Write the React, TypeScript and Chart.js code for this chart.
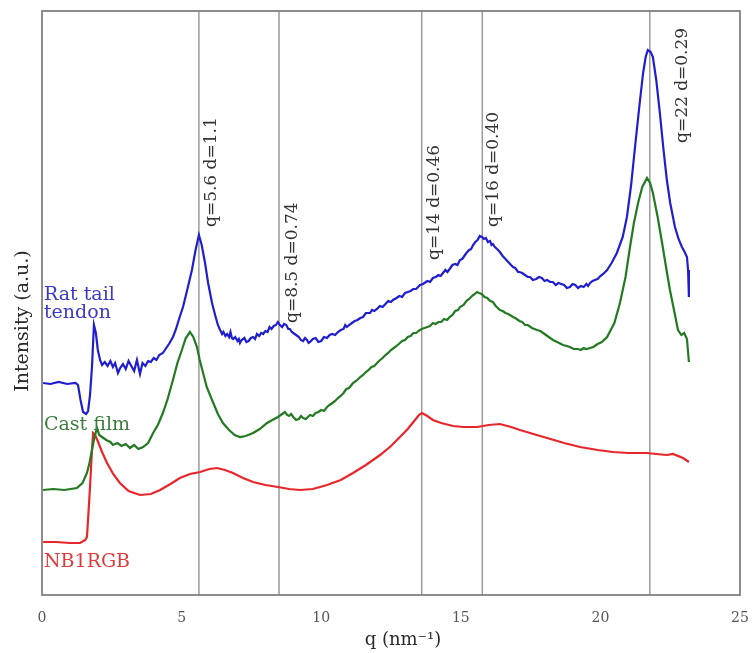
import React, { useEffect, useRef } from "react";
import { Chart, registerables } from "chart.js";

Chart.register(...registerables);

// ---- data (q in nm^-1, intensity in arbitrary units) ----
const ratTailQ = [0.04, 0.3, 0.6, 0.9, 1.2, 1.29, 1.38, 1.47, 1.58, 1.65, 1.72, 1.79, 1.86, 1.93, 2.0, 2.08, 2.15, 2.25, 2.35, 2.45, 2.54, 2.62, 2.72, 2.8, 2.9, 3.0, 3.1, 3.2, 3.3, 3.4, 3.51, 3.6, 3.7, 3.8, 3.9, 4.0, 4.1, 4.2, 4.33, 4.45, 4.57, 4.69, 4.8, 4.92, 5.05, 5.2, 5.37, 5.5, 5.62, 5.72, 5.84, 5.95, 6.09, 6.2, 6.3,
  6.38, 6.45, 6.5, 6.57, 6.63, 6.7, 6.75, 6.8, 6.85, 6.92, 7.0, 7.05, 7.09, 7.15, 7.25, 7.32, 7.4, 7.48, 7.56, 7.63, 7.7, 7.78, 7.85, 7.92, 8.0, 8.08, 8.15, 8.22, 8.3, 8.38, 8.45, 8.52, 8.6, 8.67, 8.75, 8.82, 8.88, 8.95, 9.0, 9.1, 9.2, 9.27, 9.35, 9.42, 9.49, 9.55, 9.6, 9.7, 9.8, 9.9, 10.0, 10.1, 10.21, 10.3, 10.4, 10.5, 10.6, 10.7, 10.8, 10.86, 10.92, 11.0, 11.1, 11.2, 11.3, 11.4, 11.5, 11.6, 11.75, 11.82, 11.9, 12.0, 12.1, 12.2, 12.3, 12.4, 12.5, 12.57, 12.7, 12.8, 12.9, 13.0, 13.1, 13.2, 13.3, 13.4, 13.54, 13.65, 13.8, 13.9, 14.0, 14.1, 14.2, 14.28, 14.36, 14.45, 14.52, 14.6, 14.7, 14.8, 14.88, 14.97, 15.05, 15.1, 15.2, 15.3, 15.37, 15.44, 15.52, 15.6, 15.68, 15.76, 15.83, 15.9, 15.97, 16.05, 16.1, 16.15, 16.22, 16.3, 16.4, 16.5, 16.6, 16.7, 16.8, 16.87, 16.95, 17.05, 17.1, 17.2, 17.3, 17.4, 17.48, 17.58, 17.7, 17.8, 17.9, 18.0, 18.09, 18.2, 18.3, 18.4, 18.5, 18.6, 18.7, 18.8, 18.91, 19.0, 19.1, 19.2, 19.3, 19.4, 19.5, 19.56, 19.63, 19.72, 19.8, 19.9, 20.0, 20.1, 20.24,
  20.4, 20.59, 20.8, 20.95, 21.1, 21.24, 21.4, 21.53, 21.62, 21.7, 21.8, 21.88, 22.0, 22.13, 22.25, 22.38, 22.5, 22.67, 22.8, 22.92, 23.0, 23.1, 23.14, 23.17];
const ratTailI = [212, 211, 213, 211, 212, 210, 195, 183, 181, 184, 200, 228, 270, 262, 245, 235, 230, 233, 229, 234, 228, 232, 222, 227, 231, 226, 234, 229, 224, 235, 221, 232, 229, 234, 233, 237, 235, 240, 242, 247, 252, 258, 266, 277, 288, 305, 325, 345, 360, 350, 332, 312, 292, 280, 270,
  265, 261, 263, 259, 261, 258, 263, 257, 256, 258, 254, 256, 252, 255, 257, 253, 254, 257, 258, 256, 261, 259, 262, 261, 264, 263, 268, 266, 269, 270, 273, 270, 268, 271, 270, 266, 266, 263, 262, 260, 258, 255, 254, 257, 255, 252, 253, 256, 257, 253, 254, 258, 257, 260, 261, 260, 263, 265, 266, 270, 268, 270, 272, 274, 275, 277, 278, 282, 282, 285, 284, 286, 289, 288, 291, 294, 293, 295, 297, 299, 298, 302, 303, 304, 306, 306, 310, 311, 314, 313, 317, 318, 320, 319, 322, 325, 323, 326, 330, 331, 330, 335, 336, 338, 342, 345, 346, 350, 353, 355, 359, 358, 356, 357, 353, 354, 350, 351, 348, 346, 343, 339, 336, 333, 330, 328, 327, 323, 323, 322, 320, 318, 318, 315, 316, 318, 317, 314, 315, 313, 313, 310, 312, 311, 310, 307, 308, 311, 310, 307, 309, 308, 311, 309, 312, 314, 315, 316, 319, 321, 325,
  332, 342, 358, 378, 410, 448, 490, 522, 538, 545, 543, 538, 515, 482, 448, 415, 392, 368, 356, 348, 344, 338, 325, 298];

const castFilmQ = [0.04, 0.4, 0.8, 1.25, 1.45, 1.61, 1.7, 1.79, 1.88, 1.97, 2.05, 2.15, 2.3, 2.45, 2.54, 2.7, 2.85, 3.0, 3.15, 3.3, 3.45, 3.62, 3.8, 3.98, 4.15, 4.33, 4.5, 4.69, 4.85, 5.01, 5.15, 5.3, 5.42, 5.55, 5.65, 5.77, 5.9, 6.09, 6.3, 6.48, 6.7, 6.9, 7.09, 7.3, 7.56, 7.8, 8.06, 8.25, 8.45, 8.6,
  8.7, 8.78, 8.85, 8.92, 9.0, 9.1, 9.2, 9.28, 9.35, 9.45, 9.6, 9.7, 9.8, 9.9, 10.0, 10.1, 10.21, 10.3, 10.4, 10.5, 10.6, 10.7, 10.8, 10.9, 11.0, 11.14, 11.25, 11.4, 11.5, 11.6, 11.7, 11.8, 11.9, 12.0, 12.11, 12.2, 12.3, 12.4, 12.5, 12.6, 12.7, 12.82, 12.9, 13.0, 13.1, 13.2, 13.3, 13.4, 13.54, 13.6, 13.7, 13.8, 13.9, 14.0, 14.1, 14.2, 14.3, 14.4, 14.51, 14.6, 14.7, 14.8, 14.9, 14.97, 15.1, 15.2, 15.3, 15.4, 15.5, 15.58, 15.65, 15.75, 15.85, 15.95, 16.05, 16.15, 16.25, 16.4, 16.5, 16.6, 16.7, 16.87, 16.95, 17.1, 17.2, 17.3, 17.4, 17.55, 17.73, 17.85, 18.0, 18.15, 18.3, 18.45, 18.66, 18.8, 18.9, 19.05, 19.2, 19.3, 19.4, 19.5, 19.63, 19.75, 19.9, 20.05, 20.24,
  20.5, 20.7, 20.9, 21.06, 21.2, 21.35, 21.5, 21.67, 21.78, 21.88, 22.05, 22.21, 22.35, 22.49, 22.65, 22.78, 22.9, 23.0, 23.1, 23.17];
const castFilmI = [105, 106, 105, 107, 112, 122, 132, 145, 158, 167, 160, 158, 155, 153, 150, 152, 149, 151, 147, 150, 146, 148, 152, 162, 170, 182, 196, 215, 232, 245, 257, 263, 258, 248, 235, 222, 208, 195, 181, 172, 165, 160, 158, 159, 162, 166, 172, 175, 178, 181,
  183, 180, 179, 181, 178, 175, 176, 179, 177, 176, 180, 179, 182, 183, 185, 184, 188, 190, 192, 194, 197, 199, 202, 206, 207, 212, 214, 218, 220, 223, 225, 228, 229, 232, 235, 237, 240, 242, 245, 247, 249, 252, 254, 255, 258, 259, 262, 262, 265, 266, 267, 268, 269, 272, 271, 273, 273, 276, 275, 278, 280, 284, 285, 288, 290, 294, 296, 299, 301, 303, 302, 301, 298, 297, 294, 293, 289, 285, 284, 282, 281, 278, 277, 274, 273, 270, 270, 267, 265, 264, 261, 258, 255, 253, 250, 249, 248, 246, 246, 245, 247, 246, 247, 248, 251, 253, 258,
  272, 292, 318, 348, 372, 392, 408, 417, 412, 402, 378, 352, 328, 305, 283, 265, 260, 262, 256, 233];

const nb1rgbQ = [0.04, 0.5, 1.0, 1.36, 1.55, 1.61, 1.66, 1.72, 1.78, 1.83, 1.9, 2.01, 2.15, 2.33, 2.55, 2.79, 3.1, 3.51, 3.9, 4.23, 4.6, 4.94, 5.3, 5.66, 6.0, 6.27, 6.55, 6.84, 7.2, 7.56, 8.0, 8.45, 8.85, 9.24, 9.7, 10.21, 10.7, 11.14, 11.6, 12.11, 12.5, 12.82, 13.1, 13.36, 13.5, 13.61, 13.8, 14.0, 14.3, 14.72, 15.1, 15.58, 16.0, 16.4, 16.8, 17.12, 17.6, 18.09, 18.7, 19.27, 19.9, 20.45, 21.0, 21.67, 22.0, 22.38, 22.6, 22.96, 23.17];
const nb1rgbI = [53, 53, 52, 52, 55, 58, 80, 108, 140, 162, 160, 153, 143, 132, 121, 112, 104, 100, 101, 105, 111, 117, 121, 123, 126, 127, 125, 122, 117, 113, 110, 108, 106, 105, 106, 110, 115, 122, 130, 140, 149, 158, 166, 175, 180, 182, 179, 175, 172, 169, 168, 168, 170, 171, 168, 165, 161, 157, 152, 148, 145, 143, 142, 142, 141, 140, 141, 137, 133];

const seriesNames = ["Rat tail tendon", "Cast film", "NB1RGB"];
const seriesLabelLines = [["Rat tail", "tendon"], ["Cast film"], ["NB1RGB"]];
const seriesLabelQ = [0.07, 0.07, 0.07];
const seriesLabelI = [295, 165, 28];

const xTicks = [0, 5, 10, 15, 20, 25];
const xTitle = "q (nm\u207B\u00B9)";
const yTitle = "Intensity (a.u.)";

const refQ = [5.62, 8.49, 13.6, 15.77, 21.77];
const refText = ["q=5.6 d=1.1", "q=8.5 d=0.74", "q=14 d=0.46", "q=16 d=0.40", "q=22 d=0.29"];
const refTextQ = [6.07, 8.96, 14.07, 16.17, 22.93];
const refTextI = [368, 272, 335, 368, 452];

const Y_MAX = 584;

const COLORS = ["#1f1fd0", "#237a23", "#e8262a"];
const LABEL_COLORS = ["#3a3ac8", "#3d7d3d", "#e23a3a"];
const FONT = "'DejaVu Serif', serif";

function pairs(qs: number[], is: number[]) {
  return qs.map((q, i) => ({ x: q, y: is[i] }));
}

const overlayPlugin = {
  id: "overlay",
  afterDatasetsDraw(chart: any) {
    const { ctx, chartArea, scales } = chart;
    const xs = scales.x;
    const ys = scales.y;
    ctx.save();
    // frame
    ctx.strokeStyle = "#808080";
    ctx.lineWidth = 1.8;
    ctx.strokeRect(chartArea.left, chartArea.top, chartArea.right - chartArea.left, chartArea.bottom - chartArea.top);

    // reference labels (rotated)
    ctx.fillStyle = "#333333";
    ctx.font = `17px ${FONT}`;
    ctx.textAlign = "left";
    ctx.textBaseline = "middle";
    refText.forEach((t, i) => {
      const px = xs.getPixelForValue(refTextQ[i]);
      const py = ys.getPixelForValue(refTextI[i]);
      ctx.save();
      ctx.translate(px, py);
      ctx.rotate(-Math.PI / 2);
      ctx.fillText(t, 0, 0);
      ctx.restore();
    });

    // series labels
    ctx.font = `19px ${FONT}`;
    ctx.textBaseline = "alphabetic";
    seriesLabelLines.forEach((lines, i) => {
      ctx.fillStyle = LABEL_COLORS[i];
      const px = xs.getPixelForValue(seriesLabelQ[i]);
      const py = ys.getPixelForValue(seriesLabelI[i]);
      lines.forEach((ln, j) => {
        ctx.fillText(ln, px, py + j * 18);
      });
    });

    // axis titles
    ctx.fillStyle = "#2a2a2a";
    ctx.textAlign = "center";
    ctx.textBaseline = "middle";
    ctx.font = `18px ${FONT}`;
    ctx.fillText(xTitle, chartArea.left + 361, chartArea.bottom + 45);
    ctx.save();
    ctx.font = `19px ${FONT}`;
    ctx.translate(chartArea.left - 19, chartArea.top + 310);
    ctx.rotate(-Math.PI / 2);
    ctx.fillText(yTitle, 0, 0);
    ctx.restore();

    ctx.restore();
  },
};

export default function App() {
  const ref = useRef<HTMLCanvasElement | null>(null);

  useEffect(() => {
    if (!ref.current) return;
    const seriesData = [
      pairs(ratTailQ, ratTailI),
      pairs(castFilmQ, castFilmI),
      pairs(nb1rgbQ, nb1rgbI),
    ];
    const datasets: any[] = seriesData.map((d, i) => ({
      label: seriesNames[i],
      data: d,
      borderColor: COLORS[i],
      borderWidth: 2.2,
      pointRadius: 0,
      tension: 0,
      fill: false,
    }));
    refQ.forEach((q, i) => {
      datasets.push({
        label: refText[i],
        data: [
          { x: q, y: 0 },
          { x: q, y: Y_MAX },
        ],
        borderColor: "#9a9a9a",
        borderWidth: 1.5,
        pointRadius: 0,
        fill: false,
      });
    });

    const chart = new Chart(ref.current, {
      type: "line",
      data: { datasets },
      options: {
        animation: false,
        responsive: false,
        maintainAspectRatio: false,
        layout: { padding: { left: 0, top: 11, right: 13, bottom: 0 } },
        plugins: {
          legend: { display: false },
          tooltip: { enabled: false },
        },
        scales: {
          x: {
            type: "linear",
            min: 0,
            max: 25,
            afterBuildTicks: (scale: any) => {
              scale.ticks = xTicks.map((v) => ({ value: v }));
            },
            afterFit: (scale: any) => {
              scale.height = 58;
              scale.paddingLeft = 0;
              scale.paddingRight = 0;
            },
            ticks: {
              color: "#555555",
              font: { family: FONT, size: 14 },
              padding: 7,
              maxRotation: 0,
            },
            grid: { display: false },
            border: { display: false },
            title: { display: false },
          },
          y: {
            type: "linear",
            min: 0,
            max: Y_MAX,
            afterFit: (scale: any) => {
              scale.width = 42;
              scale.paddingTop = 0;
              scale.paddingBottom = 0;
            },
            ticks: { display: false },
            grid: { display: false },
            border: { display: false },
            title: { display: false },
          },
        },
      },
      plugins: [overlayPlugin],
    });
    return () => chart.destroy();
  }, []);

  return (
    <div style={{ position: "absolute", left: 0, top: 0, width: 753, height: 653, background: "#ffffff" }}>
      <canvas ref={ref} width={753} height={653} style={{ width: 753, height: 653 }} />
    </div>
  );
}
